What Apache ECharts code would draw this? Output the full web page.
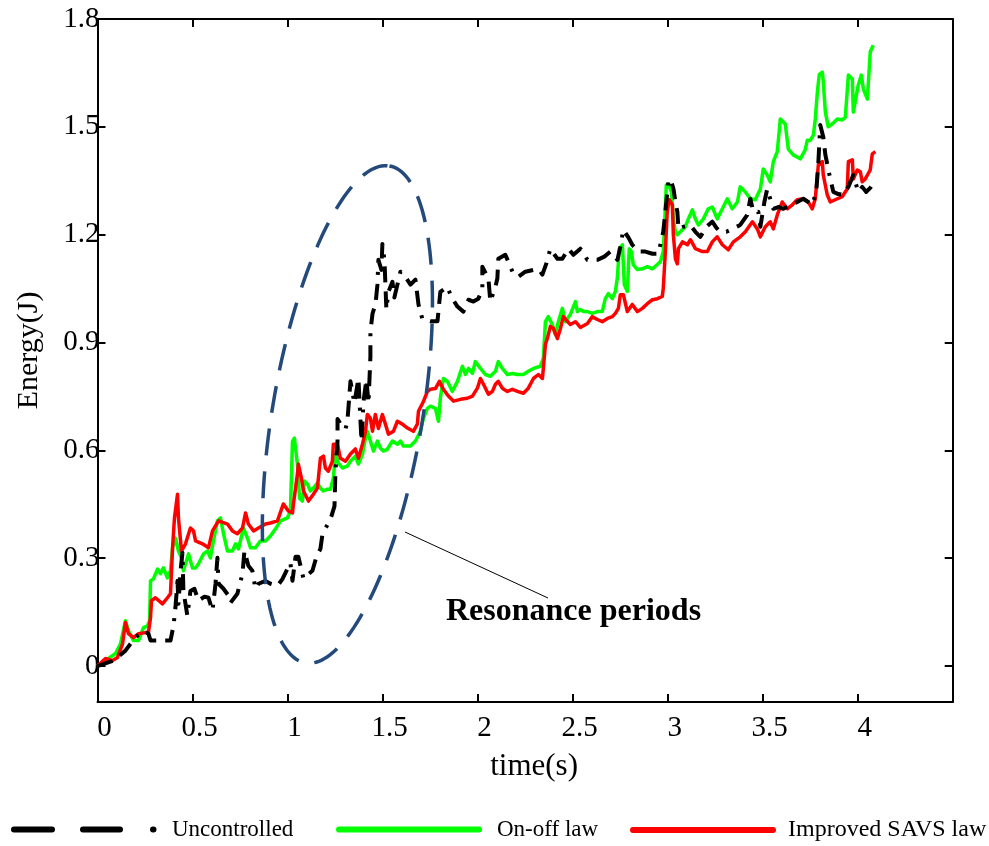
<!DOCTYPE html>
<html>
<head>
<meta charset="utf-8">
<script src="https://cdn.jsdelivr.net/npm/echarts@6/dist/echarts.min.js"></script>
<style>
html,body{margin:0;padding:0;background:#fff;}
#main{width:989px;height:846px;}
</style>
</head>
<body>
<div id="main"></div>
<script>
// ---------------- data ----------------
const seriesNames = ['Uncontrolled', 'On-off law', 'Improved SAVS law'];
const xTickValues = [0, 0.5, 1, 1.5, 2, 2.5, 3, 3.5, 4];
const yTickValues = [0, 0.3, 0.6, 0.9, 1.2, 1.5, 1.8];

// [time (s), energy (J)]
const uncontrolled = [[0,0],[0.084,0.015],[0.147,0.043],[0.2,0.08],[0.242,0.098],[0.268,0.09],[0.279,0.071],[0.347,0.071],[0.384,0.071],[0.4,0.112],[0.41,0.162],[0.421,0.237],[0.426,0.173],[0.437,0.265],[0.447,0.315],[0.452,0.209],[0.473,0.14],[0.489,0.209],[0.51,0.215],[0.531,0.182],[0.563,0.193],[0.584,0.19],[0.605,0.154],[0.621,0.229],[0.631,0.301],[0.637,0.229],[0.663,0.215],[0.689,0.196],[0.7,0.176],[0.736,0.201],[0.763,0.257],[0.773,0.32],[0.794,0.279],[0.815,0.265],[0.831,0.215],[0.847,0.229],[0.884,0.237],[0.91,0.229],[0.947,0.223],[0.973,0.242],[1.015,0.287],[1.026,0.237],[1.042,0.304],[1.057,0.304],[1.084,0.243],[1.105,0.254],[1.131,0.265],[1.152,0.304],[1.173,0.326],[1.184,0.368],[1.215,0.398],[1.231,0.417],[1.247,0.445],[1.252,0.542],[1.263,0.626],[1.263,0.687],[1.284,0.67],[1.305,0.659],[1.315,0.681],[1.331,0.792],[1.352,0.731],[1.373,0.8],[1.389,0.626],[1.4,0.737],[1.415,0.797],[1.426,0.731],[1.436,0.861],[1.436,0.93],[1.447,0.98],[1.463,1.008],[1.473,1.061],[1.478,1.13],[1.494,1.102],[1.499,1.174],[1.51,1.13],[1.52,0.992],[1.531,1.041],[1.552,1.069],[1.562,1.025],[1.594,1.097],[1.62,1.083],[1.647,1.061],[1.673,1.075],[1.689,1.006],[1.71,0.964],[1.752,0.959],[1.789,0.959],[1.804,1.041],[1.841,1.055],[1.862,1.027],[1.894,1.0],[1.925,0.986],[1.952,1.019],[1.978,1.014],[2.004,1.022],[2.025,1.047],[2.025,1.111],[2.057,1.078],[2.067,1.014],[2.094,1.055],[2.104,1.078],[2.109,1.133],[2.146,1.144],[2.173,1.111],[2.188,1.091],[2.215,1.083],[2.251,1.097],[2.294,1.102],[2.32,1.105],[2.341,1.089],[2.362,1.12],[2.383,1.161],[2.42,1.133],[2.446,1.133],[2.478,1.161],[2.504,1.144],[2.541,1.161],[2.578,1.13],[2.63,1.13],[2.667,1.139],[2.699,1.153],[2.736,1.13],[2.751,1.166],[2.767,1.214],[2.794,1.192],[2.814,1.172],[2.846,1.153],[2.883,1.153],[2.92,1.147],[2.951,1.147],[2.977,1.208],[3.004,1.347],[3.015,1.355],[3.031,1.327],[3.041,1.291],[3.051,1.264],[3.057,1.216],[3.083,1.222],[3.12,1.226],[3.146,1.208],[3.172,1.194],[3.204,1.222],[3.235,1.236],[3.257,1.219],[3.277,1.208],[3.309,1.208],[3.34,1.216],[3.382,1.227],[3.419,1.255],[3.435,1.3],[3.451,1.264],[3.477,1.264],[3.488,1.222],[3.509,1.291],[3.524,1.327],[3.556,1.272],[3.582,1.277],[3.609,1.272],[3.645,1.282],[3.682,1.291],[3.714,1.3],[3.761,1.283],[3.782,1.319],[3.793,1.4],[3.803,1.505],[3.819,1.472],[3.83,1.422],[3.856,1.355],[3.872,1.319],[3.898,1.313],[3.924,1.311],[3.951,1.333],[3.977,1.366],[4.003,1.319],[4.024,1.333],[4.045,1.319],[4.066,1.33],[4.093,1.352]];

const onOffLaw = [[0,0],[0.058,0.021],[0.095,0.035],[0.121,0.062],[0.147,0.126],[0.163,0.098],[0.189,0.071],[0.216,0.071],[0.242,0.107],[0.263,0.112],[0.274,0.126],[0.279,0.237],[0.295,0.243],[0.316,0.27],[0.331,0.257],[0.347,0.273],[0.368,0.245],[0.384,0.265],[0.395,0.329],[0.41,0.356],[0.426,0.32],[0.442,0.301],[0.452,0.265],[0.468,0.293],[0.479,0.312],[0.5,0.273],[0.516,0.273],[0.531,0.284],[0.558,0.312],[0.579,0.32],[0.594,0.301],[0.61,0.348],[0.631,0.404],[0.647,0.412],[0.663,0.368],[0.684,0.32],[0.71,0.32],[0.726,0.34],[0.742,0.326],[0.768,0.384],[0.789,0.356],[0.805,0.329],[0.831,0.329],[0.857,0.348],[0.884,0.348],[0.91,0.362],[0.936,0.381],[0.963,0.404],[0.999,0.412],[1.015,0.431],[1.026,0.625],[1.036,0.634],[1.052,0.562],[1.063,0.467],[1.078,0.459],[1.089,0.515],[1.105,0.506],[1.12,0.487],[1.136,0.495],[1.157,0.509],[1.173,0.495],[1.189,0.487],[1.21,0.492],[1.226,0.492],[1.241,0.523],[1.252,0.589],[1.268,0.564],[1.289,0.551],[1.315,0.556],[1.331,0.57],[1.357,0.584],[1.373,0.562],[1.394,0.589],[1.41,0.634],[1.42,0.653],[1.436,0.626],[1.452,0.598],[1.473,0.626],[1.489,0.606],[1.504,0.598],[1.525,0.603],[1.552,0.626],[1.578,0.617],[1.594,0.626],[1.61,0.612],[1.647,0.612],[1.673,0.626],[1.699,0.653],[1.715,0.689],[1.736,0.717],[1.752,0.723],[1.778,0.717],[1.794,0.681],[1.804,0.745],[1.82,0.8],[1.841,0.792],[1.867,0.764],[1.894,0.792],[1.92,0.834],[1.936,0.811],[1.952,0.828],[1.973,0.814],[1.988,0.847],[2.015,0.828],[2.041,0.811],[2.067,0.806],[2.094,0.82],[2.109,0.847],[2.13,0.828],[2.157,0.811],[2.183,0.814],[2.209,0.811],[2.241,0.811],[2.267,0.82],[2.294,0.828],[2.33,0.834],[2.346,0.856],[2.357,0.958],[2.372,0.972],[2.393,0.95],[2.409,0.922],[2.425,0.958],[2.446,0.995],[2.462,0.958],[2.488,0.978],[2.515,1.014],[2.525,0.986],[2.541,0.992],[2.557,0.986],[2.578,0.986],[2.604,0.981],[2.63,0.986],[2.656,0.986],[2.672,1.022],[2.688,1.036],[2.709,1.022],[2.725,1.042],[2.735,1.078],[2.746,1.161],[2.762,1.172],[2.772,1.061],[2.788,1.042],[2.798,1.161],[2.809,1.153],[2.819,1.117],[2.841,1.103],[2.867,1.105],[2.893,1.111],[2.92,1.105],[2.946,1.117],[2.962,1.125],[2.977,1.153],[2.983,1.216],[2.993,1.338],[3.004,1.341],[3.02,1.319],[3.03,1.244],[3.041,1.208],[3.051,1.2],[3.067,1.208],[3.093,1.222],[3.109,1.244],[3.13,1.269],[3.146,1.244],[3.162,1.227],[3.188,1.244],[3.214,1.272],[3.235,1.277],[3.261,1.244],[3.288,1.272],[3.314,1.3],[3.34,1.272],[3.367,1.291],[3.382,1.333],[3.409,1.319],[3.435,1.3],[3.461,1.297],[3.488,1.327],[3.503,1.383],[3.524,1.366],[3.54,1.347],[3.556,1.403],[3.577,1.431],[3.593,1.522],[3.603,1.527],[3.619,1.508],[3.635,1.438],[3.661,1.422],[3.698,1.411],[3.724,1.436],[3.735,1.463],[3.751,1.463],[3.767,1.477],[3.777,1.522],[3.788,1.597],[3.798,1.646],[3.814,1.652],[3.819,1.625],[3.83,1.541],[3.845,1.5],[3.866,1.508],[3.893,1.522],[3.919,1.519],[3.935,1.527],[3.951,1.644],[3.972,1.633],[3.977,1.541],[3.987,1.541],[4.003,1.616],[4.019,1.644],[4.03,1.605],[4.051,1.577],[4.061,1.577],[4.066,1.708],[4.082,1.727]];

const improvedSavs = [[0,0],[0.042,0.021],[0.079,0.015],[0.105,0.024],[0.132,0.062],[0.147,0.121],[0.163,0.09],[0.189,0.079],[0.216,0.09],[0.252,0.093],[0.268,0.093],[0.279,0.135],[0.284,0.182],[0.305,0.19],[0.342,0.173],[0.368,0.19],[0.384,0.201],[0.395,0.329],[0.405,0.412],[0.421,0.478],[0.426,0.412],[0.442,0.32],[0.463,0.34],[0.489,0.384],[0.505,0.376],[0.516,0.348],[0.552,0.34],[0.584,0.329],[0.605,0.376],[0.637,0.404],[0.684,0.395],[0.71,0.376],[0.736,0.368],[0.763,0.384],[0.779,0.426],[0.794,0.395],[0.821,0.376],[0.847,0.384],[0.884,0.395],[0.91,0.398],[0.947,0.404],[0.978,0.451],[1.005,0.431],[1.026,0.426],[1.031,0.451],[1.052,0.534],[1.057,0.562],[1.073,0.523],[1.084,0.487],[1.11,0.459],[1.136,0.478],[1.157,0.495],[1.173,0.578],[1.189,0.584],[1.199,0.551],[1.215,0.542],[1.236,0.57],[1.241,0.617],[1.263,0.617],[1.278,0.578],[1.305,0.57],[1.331,0.59],[1.357,0.604],[1.373,0.578],[1.394,0.617],[1.41,0.653],[1.42,0.7],[1.436,0.689],[1.447,0.653],[1.462,0.7],[1.478,0.661],[1.499,0.7],[1.515,0.673],[1.531,0.645],[1.557,0.653],[1.578,0.681],[1.604,0.673],[1.631,0.662],[1.662,0.653],[1.683,0.673],[1.689,0.709],[1.715,0.736],[1.736,0.764],[1.752,0.77],[1.778,0.772],[1.799,0.792],[1.82,0.77],[1.846,0.751],[1.873,0.737],[1.91,0.742],[1.946,0.745],[1.973,0.751],[1.999,0.773],[2.015,0.8],[2.031,0.784],[2.057,0.756],[2.078,0.764],[2.094,0.784],[2.109,0.792],[2.13,0.773],[2.157,0.764],[2.183,0.77],[2.209,0.764],[2.241,0.759],[2.267,0.773],[2.294,0.8],[2.32,0.811],[2.341,0.8],[2.346,0.828],[2.357,0.895],[2.367,0.911],[2.383,0.945],[2.399,0.939],[2.42,0.911],[2.436,0.939],[2.451,0.972],[2.472,0.959],[2.488,0.95],[2.515,0.958],[2.541,0.942],[2.578,0.953],[2.604,0.972],[2.63,0.964],[2.656,0.958],[2.683,0.967],[2.709,0.972],[2.725,0.981],[2.741,0.995],[2.751,1.033],[2.767,1.033],[2.788,0.986],[2.814,1.006],[2.841,0.986],[2.867,0.995],[2.893,1.008],[2.92,1.019],[2.946,1.022],[2.972,1.028],[2.977,1.05],[2.988,1.153],[2.998,1.264],[3.009,1.297],[3.025,1.283],[3.03,1.2],[3.041,1.133],[3.051,1.119],[3.057,1.161],[3.078,1.18],[3.104,1.172],[3.12,1.186],[3.146,1.161],[3.183,1.153],[3.209,1.153],[3.235,1.18],[3.261,1.194],[3.288,1.172],[3.319,1.158],[3.346,1.18],[3.382,1.194],[3.409,1.208],[3.446,1.236],[3.472,1.216],[3.488,1.194],[3.514,1.222],[3.54,1.236],[3.556,1.216],[3.577,1.255],[3.603,1.291],[3.63,1.272],[3.656,1.283],[3.682,1.297],[3.714,1.3],[3.74,1.291],[3.761,1.272],[3.777,1.3],[3.793,1.394],[3.814,1.403],[3.819,1.366],[3.84,1.311],[3.856,1.291],[3.893,1.3],[3.919,1.306],[3.945,1.327],[3.951,1.403],[3.972,1.408],[3.977,1.355],[3.998,1.38],[4.014,1.375],[4.024,1.347],[4.04,1.355],[4.066,1.38],[4.077,1.425],[4.093,1.431]];

// annotation (resonance ellipse, in data units for its centre)
const ellipseCentre = [1.315, 0.70];
const annotationText = 'Resonance periods';

// ---------------- chart ----------------
const FONT = '"Liberation Serif", "Times New Roman", serif';
const chart = echarts.init(document.getElementById('main'), null, {renderer: 'canvas'});

function xAxisDef(pos, withLabels) {
  return {
    type: 'value', min: 0, max: 4.5, position: pos,
    axisLine: {show: true, onZero: false, lineStyle: {color: '#000', width: 2}},
    axisTick: {show: true, inside: true, length: 8, customValues: xTickValues, lineStyle: {color: '#000', width: 2}},
    axisLabel: {show: withLabels, customValues: xTickValues, fontFamily: FONT, fontSize: 29, color: '#000', margin: 12, padding: [0, 0, 0, 14]},
    splitLine: {show: false},
    name: withLabels ? 'time(s)' : '',
    nameLocation: 'middle', nameGap: 49,
    nameTextStyle: {fontFamily: FONT, fontSize: 31, color: '#000', padding: [0, 0, 0, 18]}
  };
}
function yAxisDef(pos, withLabels) {
  return {
    type: 'value', min: -0.1, max: 1.8, position: pos,
    axisLine: {show: true, onZero: false, lineStyle: {color: '#000', width: 2}},
    axisTick: {show: true, inside: true, length: 8, customValues: yTickValues, lineStyle: {color: '#000', width: 2}},
    axisLabel: {show: withLabels, customValues: yTickValues, fontFamily: FONT, fontSize: 29, color: '#000', margin: -2},
    splitLine: {show: false},
    name: withLabels ? 'Energy(J)' : '',
    nameLocation: 'middle', nameGap: 53, nameRotate: 90,
    nameTextStyle: {fontFamily: FONT, fontSize: 30, color: '#000', padding: [0, 0, 0, 20]}
  };
}
function legendDef(name, left, textPad, textSize, lineStyle) {
  return {
    show: true, left: left, top: 813, orient: 'horizontal',
    itemWidth: 140, itemHeight: 24, selectedMode: false,
    data: [name],
    textStyle: {fontFamily: FONT, fontSize: textSize, color: '#000', padding: [0, 0, 0, textPad]},
    itemStyle: {opacity: 0, borderWidth: 0},
    lineStyle: lineStyle
  };
}

const option = {
  animation: false,
  backgroundColor: '#ffffff',
  grid: {left: 97.5, right: 36.3, top: 19, bottom: 144, containLabel: false},
  xAxis: [xAxisDef('bottom', true), xAxisDef('top', false)],
  yAxis: [yAxisDef('left', true), yAxisDef('right', false)],
  legend: [
    legendDef(seriesNames[0], 6, 13, 23, {color: '#000', width: 6, type: [38, 31, 37, 33, 0.5, 300], cap: 'round'}),
    legendDef(seriesNames[1], 331, 13, 23, {color: '#00ff00', width: 6, type: 'solid', cap: 'round'}),
    legendDef(seriesNames[2], 625, 10, 24, {color: '#ff0000', width: 6, type: 'solid', cap: 'round'})
  ],
  series: [
    {
      name: seriesNames[1], type: 'line', data: onOffLaw, xAxisIndex: 0, yAxisIndex: 0,
      symbol: 'none', showSymbol: false, smooth: false, z: 2,
      lineStyle: {color: '#00ff00', width: 3.5, join: 'round'},
      itemStyle: {color: '#00ff00'}
    },
    {
      name: seriesNames[2], type: 'line', data: improvedSavs, xAxisIndex: 0, yAxisIndex: 0,
      symbol: 'none', showSymbol: false, smooth: false, z: 3,
      lineStyle: {color: '#ff0000', width: 3.5, join: 'round'},
      itemStyle: {color: '#ff0000'}
    },
    {
      name: seriesNames[0], type: 'line', data: uncontrolled, xAxisIndex: 0, yAxisIndex: 0,
      symbol: 'none', showSymbol: false, smooth: false, z: 4,
      lineStyle: {color: '#000000', width: 4, type: [16, 9, 16, 9, 3, 9], join: 'round', cap: 'butt'},
      itemStyle: {color: '#000000'}
    }
  ]
};
chart.setOption(option);

// ----- annotation: tilted dashed ellipse + leader line + label -----
const c = chart.convertToPixel({gridIndex: 0}, ellipseCentre);
const semiMajor = 252, semiMinor = 75, tilt = 9.6 * Math.PI / 180;
const pts = [];
for (let i = 0; i <= 180; i++) {
  const u = i / 180 * Math.PI * 2 - Math.PI / 2;
  const lx = semiMinor * Math.cos(u), ly = semiMajor * Math.sin(u);
  pts.push([c[0] + lx * Math.cos(tilt) - ly * Math.sin(tilt), c[1] + lx * Math.sin(tilt) + ly * Math.cos(tilt)]);
}
chart.setOption({
  graphic: [
    {type: 'polyline', z: 10, shape: {points: pts}, style: {stroke: '#244a7c', lineWidth: 3.5, fill: null, lineDash: [27, 16]}},
    {type: 'line', z: 10, shape: {x1: 405, y1: 532, x2: 548, y2: 598}, style: {stroke: '#000', lineWidth: 1}},
    {type: 'text', z: 10, x: 446, y: 612, style: {text: annotationText, font: 'bold 32px ' + FONT, fill: '#000', textVerticalAlign: 'middle', verticalAlign: 'middle'}}
  ]
});
</script>
</body>
</html>
